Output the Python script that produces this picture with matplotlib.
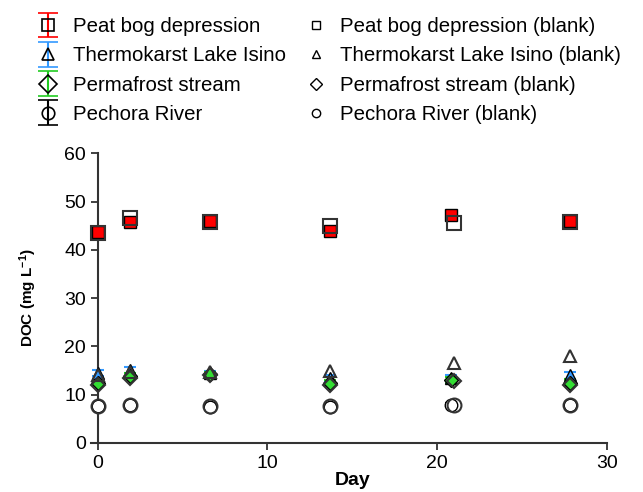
import numpy as np
import matplotlib.pyplot as plt
from matplotlib.container import ErrorbarContainer
from matplotlib.legend_handler import HandlerErrorbar

plt.rcParams['font.family'] = ['Liberation Sans', 'DejaVu Sans']
plt.rcParams['mathtext.default'] = 'regular'

# sampling days
days = [0, 1.9, 6.6, 13.7, 20.8, 27.8]
days_blank = [0, 1.9, 6.6, 13.7, 21.0, 27.8]

# DOC, mg/L
peat = [43.6, 45.8, 46.0, 43.8, 47.2, 46.0]
peat_err = [0.5, 0.6, 0.4, 0.5, 0.6, 0.5]
peat_blank = [43.4, 46.5, 45.8, 44.9, 45.6, 45.7]

lake = [14.5, 15.1, 14.5, 13.5, 13.5, 14.0]
lake_err = [0.6, 0.7, 0.5, 0.6, 0.5, 0.8]
lake_blank = [14.0, 14.8, 14.6, 15.0, 16.5, 18.0]

stream = [12.4, 13.9, 14.2, 12.5, 13.0, 12.5]
stream_err = [0.5, 0.5, 0.6, 0.6, 0.6, 0.7]
stream_blank = [12.0, 13.5, 14.0, 12.0, 12.8, 12.0]

river = [7.6, 7.9, 7.5, 7.5, 7.8, 7.9]
river_err = [0.3, 0.4, 0.3, 0.3, 0.4, 0.6]
river_blank = [7.6, 7.9, 7.6, 7.6, 7.8, 7.9]

names = ["Peat bog depression", "Thermokarst Lake Isino",
         "Permafrost stream", "Pechora River"]

fig = plt.figure(figsize=(6.43, 4.92), dpi=100)
ax = fig.add_axes([0.152, 0.0996, 0.792, 0.589])

series = [
    (peat, peat_err, peat_blank, 's', 'red', '#ff0000'),
    (lake, lake_err, lake_blank, '^', '#3399ff', '#3399ff'),
    (stream, stream_err, stream_blank, 'D', '#22cc22', '#33dd33'),
    (river, river_err, river_blank, 'o', 'black', 'white'),
]
msize = {'s': 8, '^': 8, 'D': 7, 'o': 9}
bsize = {'s': 10, '^': 8, 'D': 7, 'o': 10}

for vals, err, blank, m, ecol, fcol in series:
    ax.errorbar(days, vals, yerr=err, fmt=m, color=ecol, ecolor=ecol,
                mfc=fcol, mec='black', ms=msize[m], capsize=4,
                elinewidth=1.5, capthick=1.5, zorder=3, clip_on=False)
    ax.plot(days_blank, blank, m, mfc='none', mec='#333333',
            ms=bsize[m], mew=1.5, ls='none', zorder=4, clip_on=False)

ax.set_xlim(0, 30)
ax.set_ylim(0, 60)
ax.set_xticks([0, 10, 20, 30])
ax.set_yticks(range(0, 61, 10))
for s in ['top', 'right']:
    ax.spines[s].set_visible(False)
for s in ['left', 'bottom']:
    ax.spines[s].set_color('#333333')
    ax.spines[s].set_linewidth(1.5)
ax.spines['bottom'].set_bounds(-0.4, 30)
ax.tick_params(axis='both', labelsize=14, color='#333333', width=1.3, length=5)
ax.set_xlabel("Day", fontsize=14, fontweight='bold', labelpad=0)
ax.set_ylabel("DOC (mg L$^{-1}$)", fontsize=11, fontweight='bold', labelpad=18)

# legend handles: open markers with long capped error bars
leg_s = []
for vals, err, blank, m, ecol, fcol in series:
    h = ax.errorbar([np.nan], [np.nan], yerr=[1], fmt=m, color=ecol, ecolor=ecol,
                    mfc='none', mec='black', ms=9, mew=1.2, capsize=7,
                    elinewidth=1.5, capthick=1.5)
    leg_s.append(h)
leg_b = []
for vals, err, blank, m, ecol, fcol in series:
    b, = ax.plot([], [], m, mfc='none', mec='black', ms=6, mew=1, ls='none')
    leg_b.append(b)

fig.legend(leg_s + leg_b, names + [n + " (blank)" for n in names],
           ncol=2, loc='upper left', bbox_to_anchor=(0.034, 0.994),
           borderpad=0.2, frameon=False, fontsize=14.7, handlelength=1.2,
           handletextpad=0.6, labelspacing=0.5, columnspacing=0.86,
           handler_map={ErrorbarContainer: HandlerErrorbar(yerr_size=0.6)})

fig.savefig("out.png", dpi=100)
